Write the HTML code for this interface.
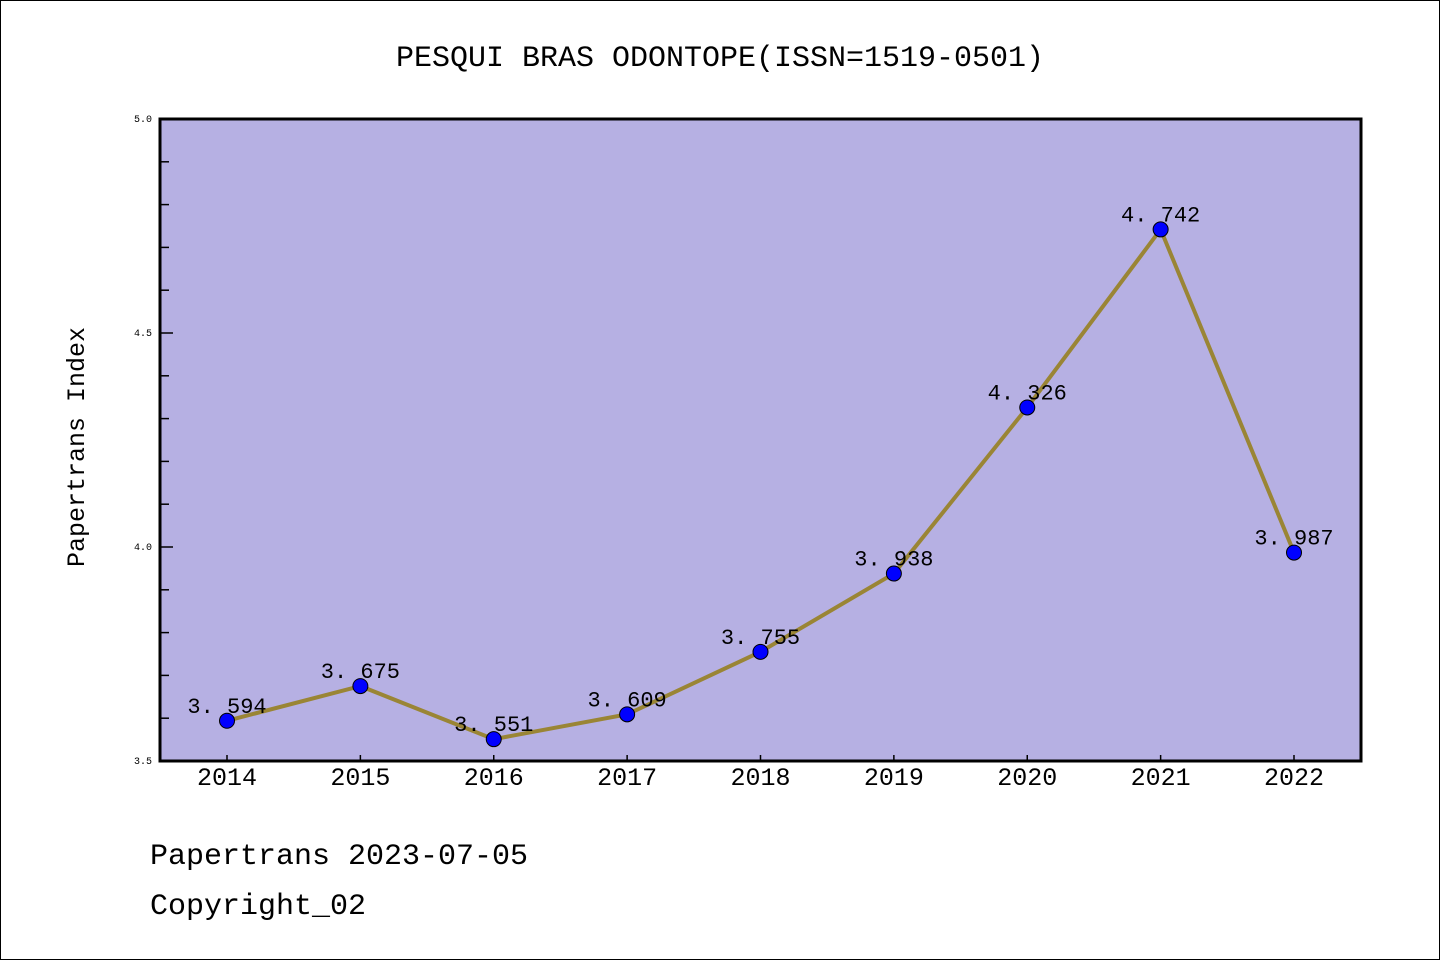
<!DOCTYPE html>
<html><head><meta charset="utf-8"><style>
html,body{margin:0;padding:0;background:#fff}
svg{display:block}
text{font-family:"WenQuanYi Zen Hei Mono","Liberation Mono",monospace}
</style></head><body>
<svg id="chart" width="1440" height="960" xmlns="http://www.w3.org/2000/svg">
<rect x="0.5" y="0.5" width="1439" height="959" fill="#fff" stroke="#000"/>
<text x="720" y="66" text-anchor="middle" font-size="30">PESQUI BRAS ODONTOPE(ISSN=1519-0501)</text>
<rect x="160" y="119" width="1201" height="642" fill="#b6b0e3"/>
<g id="axes"></g>
<g id="marks"></g>
<rect x="160" y="119" width="1201" height="642" fill="none" stroke="#000" stroke-width="3"/>
<text transform="translate(84,447) rotate(-90)" text-anchor="middle" font-size="25">Papertrans Index</text>
<text x="150" y="864" font-size="30">Papertrans 2023-07-05</text>
<text x="150" y="914" font-size="30">Copyright_02</text>
</svg>
<script>
const years=["2014","2015","2016","2017","2018","2019","2020","2021","2022"];
const values=[3.594,3.675,3.551,3.609,3.755,3.938,4.326,4.742,3.987];
const labels=["3. 594","3. 675","3. 551","3. 609","3. 755","3. 938","4. 326","4. 742","3. 987"];
const yTicks=["3.5","4.0","4.5","5.0"];
const ns="http://www.w3.org/2000/svg";
const yMin=3.5,yMax=5.0,yTop=119,yBot=761;
function y(v){return yBot-(v-yMin)/(yMax-yMin)*(yBot-yTop);}
function x(i){return 227+i*(1294-227)/(years.length-1);}
function mk(t,a,p){const e=document.createElementNS(ns,t);for(const k in a)e.setAttribute(k,a[k]);p.appendChild(e);return e;}
const ax=document.getElementById('axes'),mg=document.getElementById('marks');
for(let k=0;k<=15;k++){const v=yMin+k*0.1;const major=k%5==0;
 const l=mk('line',{x1:160,x2:major?173:169,y1:y(v),y2:y(v),stroke:'#000','stroke-width':1.5},ax);
 
 }
yTicks.forEach(t=>{const e=mk('text',{x:152,y:y(+t)+3,'text-anchor':'end','font-size':10,'font-family':'Liberation Sans, sans-serif'},ax);e.textContent=t;
 
 });
years.forEach((yr,i)=>{const l=mk('line',{x1:x(i),x2:x(i),y1:761,y2:755,stroke:'#000','stroke-width':1.5},ax);
 
 
 const t=mk('text',{x:x(i),y:785,'text-anchor':'middle','font-size':25},ax);t.textContent=yr;
 
 });
const pl=mk('polyline',{points:values.map((v,i)=>x(i)+','+y(v)).join(' '),fill:'none',stroke:'#9a8535','stroke-width':4},mg);


values.forEach((v,i)=>{const c=mk('circle',{cx:x(i),cy:y(v),r:7.5,fill:'#0000ff',stroke:'#000','stroke-width':1},mg);
 
 
 const t=mk('text',{x:x(i),y:y(v)-8,'text-anchor':'middle','font-size':22},mg);t.textContent=labels[i];
 
 });
</script>
</body></html>
